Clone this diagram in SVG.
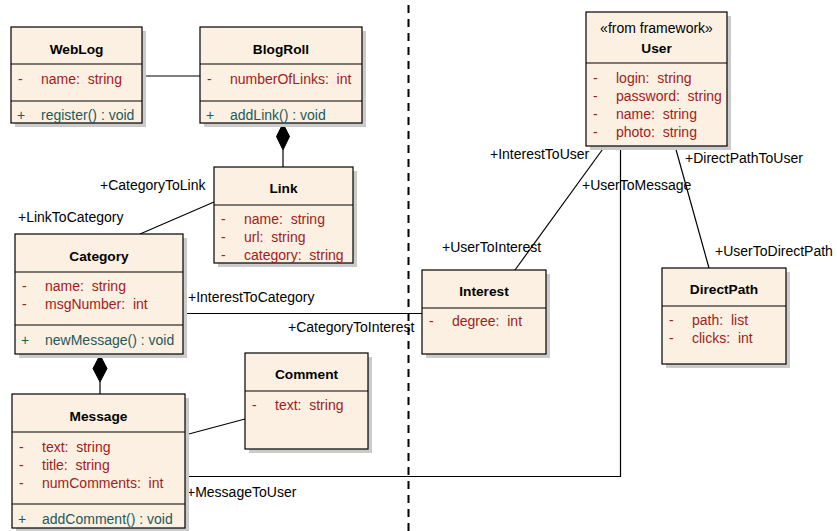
<svg xmlns="http://www.w3.org/2000/svg" width="837" height="531" viewBox="0 0 837 531">
<style>
text{font-family:"Liberation Sans",Arial,sans-serif;font-size:14px}
.sh{fill:#cbcbcb}
.bx{fill:#fbf0e2;stroke:#000;stroke-width:1.2}
.dv{stroke:#000;stroke-width:1.2}
.t{font-weight:bold;text-anchor:middle;fill:#000;font-size:13.7px}
.st{text-anchor:middle;fill:#000}
.a{fill:#a11c1c}
.o{fill:#1f5a5a}
.c{stroke:#000;stroke-width:1.2;fill:none}
.lb{fill:#000}
.dm{fill:#000;stroke:#000}
</style>
<rect width="837" height="531" fill="#fff"/>
<line x1="408.5" y1="0" x2="408.5" y2="531" stroke="#000" stroke-width="2" stroke-dasharray="8 6" stroke-dashoffset="9"/>

<g id="connectors">
<line class="c" x1="142" y1="76" x2="200" y2="76"/>
<polygon class="dm" points="283,123.5 289.5,136.5 283,150 276.5,136.5"/>
<line class="c" x1="283" y1="150" x2="283" y2="167"/>
<line class="c" x1="214" y1="202" x2="140" y2="234"/>
<line class="c" x1="183" y1="313.5" x2="422" y2="313.5"/>
<polygon class="dm" points="100,355 107,368.5 100,382 93,368.5"/>
<line class="c" x1="100" y1="382" x2="100" y2="394"/>
<line class="c" x1="185" y1="435" x2="245" y2="419"/>
<polyline class="c" points="185,476.5 620.5,476.5 620.5,146"/>
<line class="c" x1="605" y1="146" x2="515" y2="270"/>
<line class="c" x1="675" y1="146" x2="709" y2="268"/>
<text class="lb" x="100" y="190">+CategoryToLink</text>
<text class="lb" x="18" y="222">+LinkToCategory</text>
<text class="lb" x="188" y="301.5">+InterestToCategory</text>
<text class="lb" x="288" y="332">+CategoryToInterest</text>
<text class="lb" x="187" y="496.5">+MessageToUser</text>
<text class="lb" x="490" y="159">+InterestToUser</text>
<text class="lb" x="582" y="190">+UserToMessage</text>
<text class="lb" x="685" y="163">+DirectPathToUser</text>
<text class="lb" x="442" y="252">+UserToInterest</text>
<text class="lb" x="715" y="255.5">+UserToDirectPath</text>
</g>

<g id="WebLog">
<rect class="sh" x="15" y="31" width="131" height="96"/>
<rect class="bx" x="11" y="27" width="131" height="96"/>
<line class="dv" x1="11" y1="64" x2="142" y2="64"/>
<line class="dv" x1="11" y1="101" x2="142" y2="101"/>
<text class="t" x="76.5" y="54">WebLog</text>
<text class="a" x="18" y="83.5">-<tspan x="41" xml:space="preserve">name:  string</tspan></text>
<text class="o" x="17" y="120">+<tspan x="41">register() : void</tspan></text>
</g>

<g id="BlogRoll">
<rect class="sh" x="204" y="31" width="162" height="96"/>
<rect class="bx" x="200" y="27" width="162" height="96"/>
<line class="dv" x1="200" y1="64" x2="362" y2="64"/>
<line class="dv" x1="200" y1="101" x2="362" y2="101"/>
<text class="t" x="281" y="54">BlogRoll</text>
<text class="a" x="207" y="83.5">-<tspan x="230" xml:space="preserve">numberOfLinks:  int</tspan></text>
<text class="o" x="206" y="120">+<tspan x="230">addLink() : void</tspan></text>
</g>

<g id="Link">
<rect class="sh" x="218" y="171" width="139" height="96"/>
<rect class="bx" x="214" y="167" width="139" height="96"/>
<line class="dv" x1="214" y1="205" x2="353" y2="205"/>
<text class="t" x="283.5" y="193">Link</text>
<text class="a" x="221" y="223.5">-<tspan x="244" xml:space="preserve">name:  string</tspan></text>
<text class="a" x="221" y="241.5">-<tspan x="244" xml:space="preserve">url:  string</tspan></text>
<text class="a" x="221" y="259.5">-<tspan x="244" xml:space="preserve">category:  string</tspan></text>
</g>

<g id="Category">
<rect class="sh" x="19" y="238" width="168" height="120"/>
<rect class="bx" x="15" y="234" width="168" height="120"/>
<line class="dv" x1="15" y1="272" x2="183" y2="272"/>
<line class="dv" x1="15" y1="325" x2="183" y2="325"/>
<text class="t" x="99" y="260.5">Category</text>
<text class="a" x="22" y="291">-<tspan x="45" xml:space="preserve">name:  string</tspan></text>
<text class="a" x="22" y="308.5">-<tspan x="45" xml:space="preserve">msgNumber:  int</tspan></text>
<text class="o" x="21" y="344.5">+<tspan x="45">newMessage() : void</tspan></text>
</g>

<g id="Message">
<rect class="sh" x="16" y="398" width="173" height="134"/>
<rect class="bx" x="12" y="394" width="173" height="134"/>
<line class="dv" x1="12" y1="432" x2="185" y2="432"/>
<line class="dv" x1="12" y1="504" x2="185" y2="504"/>
<text class="t" x="98.5" y="421">Message</text>
<text class="a" x="19" y="451.5">-<tspan x="42" xml:space="preserve">text:  string</tspan></text>
<text class="a" x="19" y="469.5">-<tspan x="42" xml:space="preserve">title:  string</tspan></text>
<text class="a" x="19" y="487.5">-<tspan x="42" xml:space="preserve">numComments:  int</tspan></text>
<text class="o" x="18" y="523.5">+<tspan x="42">addComment() : void</tspan></text>
</g>

<g id="Comment">
<rect class="sh" x="249" y="357" width="123" height="96"/>
<rect class="bx" x="245" y="353" width="123" height="96"/>
<line class="dv" x1="245" y1="391" x2="368" y2="391"/>
<text class="t" x="306.5" y="379">Comment</text>
<text class="a" x="252" y="409.5">-<tspan x="275" xml:space="preserve">text:  string</tspan></text>
</g>

<g id="User">
<rect class="sh" x="590" y="16" width="141" height="134"/>
<rect class="bx" x="586" y="12" width="141" height="134"/>
<line class="dv" x1="586" y1="63" x2="727" y2="63"/>
<text class="st" x="656.5" y="32.5">«from framework»</text>
<text class="t" x="656.5" y="52.5">User</text>
<text class="a" x="593" y="82.5">-<tspan x="616" xml:space="preserve">login:  string</tspan></text>
<text class="a" x="593" y="100.5">-<tspan x="616" xml:space="preserve">password:  string</tspan></text>
<text class="a" x="593" y="119">-<tspan x="616" xml:space="preserve">name:  string</tspan></text>
<text class="a" x="593" y="136.5">-<tspan x="616" xml:space="preserve">photo:  string</tspan></text>
</g>

<g id="Interest">
<rect class="sh" x="426" y="274" width="124" height="84"/>
<rect class="bx" x="422" y="270" width="124" height="84"/>
<line class="dv" x1="422" y1="308" x2="546" y2="308"/>
<text class="t" x="484" y="295.5">Interest</text>
<text class="a" x="429" y="326">-<tspan x="452" xml:space="preserve">degree:  int</tspan></text>
</g>

<g id="DirectPath">
<rect class="sh" x="666" y="272" width="124" height="96"/>
<rect class="bx" x="662" y="268" width="124" height="96"/>
<line class="dv" x1="662" y1="306" x2="786" y2="306"/>
<text class="t" x="724" y="294">DirectPath</text>
<text class="a" x="669" y="324.5">-<tspan x="692" xml:space="preserve">path:  list</tspan></text>
<text class="a" x="669" y="342.5">-<tspan x="692" xml:space="preserve">clicks:  int</tspan></text>
</g>
</svg>
